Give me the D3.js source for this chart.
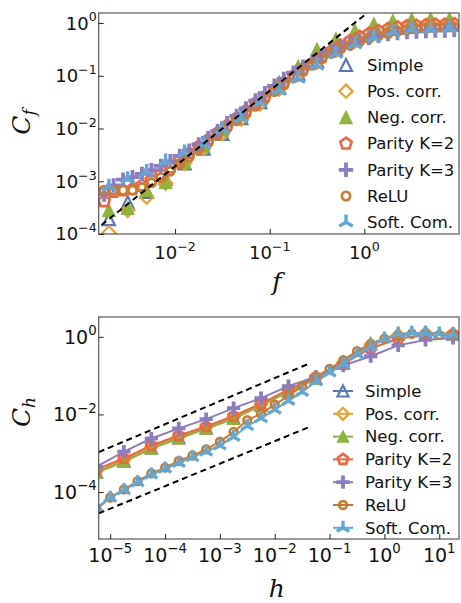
<!DOCTYPE html>
<html>
<head>
<meta charset="utf-8">
<script src="https://cdn.jsdelivr.net/npm/d3@7"></script>
<style>
  body { margin: 0; background: #fff; }
  svg { display: block; }
</style>
</head>
<body>
<svg id="chart" width="461" height="603"></svg>
<script>
// ---------- data, upper panel (C_f vs f) ----------
const fFine = [1.78e-3, 2.24e-3, 2.82e-3, 3.55e-3, 4.47e-3, 5.62e-3, 7.08e-3, 8.91e-3, 0.0112, 0.0141,
  0.0178, 0.0224, 0.0282, 0.0355, 0.0447, 0.0562, 0.0708, 0.0891, 0.112, 0.141,
  0.178, 0.224, 0.282, 0.355, 0.447, 0.562, 0.708, 0.891, 1.12, 1.41,
  1.78, 2.24, 2.82, 3.55, 4.47, 5.62, 7.08, 8.91];
const fCoarse = [2.0e-3, 3.16e-3, 5.01e-3, 7.94e-3, 0.0126, 0.02, 0.0316, 0.0501, 0.0794, 0.126,
  0.2, 0.316, 0.501, 0.794, 1.26, 2.0, 3.16, 5.01, 7.94];

const cfSimple = [1.91e-4, 3.98e-4, 6.31e-4, 1.12e-3, 2.19e-3, 4.17e-3, 7.94e-3, 0.0158, 0.0316, 0.0603,
  0.110, 0.191, 0.316, 0.479, 0.661, 0.832, 0.933, 1.00, 1.05];
const cfPosCorr = [1.05e-4, 2.82e-4, 5.01e-4, 9.12e-4, 2.19e-3, 4.17e-3, 7.94e-3, 0.0151, 0.0295, 0.0562,
  0.105, 0.182, 0.302, 0.457, 0.631, 0.794, 0.891, 0.955, 0.977];
const cfNegCorr = [2.82e-4, 3.09e-4, 6.76e-4, 9.55e-4, 2.29e-3, 4.68e-3, 9.33e-3, 0.0182, 0.0355, 0.0759,
  0.151, 0.316, 0.501, 0.708, 0.955, 1.10, 1.17, 1.20, 1.20];
const cfParity2 = [4.17e-4, 6.31e-4, 6.76e-4, 7.08e-4, 8.32e-4, 1.05e-3, 1.35e-3, 1.82e-3, 2.51e-3, 3.39e-3,
  4.57e-3, 6.17e-3, 8.32e-3, 0.0115, 0.0158, 0.0219, 0.0302, 0.0407, 0.0550, 0.0741,
  0.100, 0.132, 0.174, 0.229, 0.295, 0.372, 0.457, 0.550, 0.631, 0.708,
  0.776, 0.832, 0.871, 0.891, 0.912, 0.933, 0.933, 0.955];
const cfParity3 = [5.62e-4, 8.32e-4, 1.07e-3, 1.20e-3, 1.38e-3, 1.62e-3, 1.95e-3, 2.40e-3, 3.02e-3, 3.80e-3,
  5.01e-3, 6.61e-3, 8.91e-3, 0.0126, 0.0174, 0.0240, 0.0339, 0.0468, 0.0646, 0.0871,
  0.115, 0.148, 0.186, 0.234, 0.288, 0.347, 0.407, 0.468, 0.525, 0.575,
  0.617, 0.646, 0.676, 0.692, 0.708, 0.724, 0.724, 0.741];
const cfRelu = [6.76e-4, 6.76e-4, 6.76e-4, 6.76e-4, 7.59e-4, 9.33e-4, 1.17e-3, 1.55e-3, 2.14e-3, 2.88e-3,
  3.98e-3, 5.37e-3, 7.41e-3, 0.0102, 0.0141, 0.0191, 0.0263, 0.0363, 0.0501, 0.0676,
  0.0912, 0.120, 0.158, 0.209, 0.269, 0.324, 0.380, 0.447, 0.513, 0.575,
  0.631, 0.692, 0.741, 0.776, 0.794, 0.813, 0.832, 0.832];
const cfSoftCom = [7.94e-4, 1.10e-3, 1.51e-3, 2.40e-3, 3.55e-3, 5.01e-3, 9.55e-3, 0.0158, 0.0316, 0.0525,
  0.0891, 0.158, 0.263, 0.398, 0.525, 0.676, 0.759, 0.776, 0.794];

// dashed guide, upper panel
const fGuide = [1.67e-3, 1.07];
const cfGuide = [1.48e-4, 1.55];

// ---------- data, lower panel (C_h vs h) ----------
const hCoarse = [5.62e-6, 1.78e-5, 5.62e-5, 1.78e-4, 5.62e-4, 1.78e-3, 5.62e-3, 0.0178, 0.0562, 0.178,
  0.562, 1.78, 5.62, 17.8];
const hFine = [5.62e-6, 1e-5, 1.78e-5, 3.16e-5, 5.62e-5, 1e-4, 1.78e-4, 3.16e-4, 5.62e-4, 1e-3,
  1.78e-3, 3.16e-3, 5.62e-3, 0.01, 0.0178, 0.0316, 0.0562, 0.1, 0.178, 0.316,
  0.562, 1, 1.78, 3.16, 5.62, 10, 17.8];

const chSimple = [3.31e-4, 6.31e-4, 1.38e-3, 2.51e-3, 4.47e-3, 8.13e-3, 0.0174, 0.0398, 0.0851, 0.209,
  0.661, 1.15, 1.26, 1.17];
const chPosCorr = [3.55e-4, 6.76e-4, 1.48e-3, 2.69e-3, 4.79e-3, 8.51e-3, 0.0182, 0.0417, 0.0891, 0.214,
  0.631, 1.12, 1.26, 1.20];
const chNegCorr = [3.16e-4, 6.03e-4, 1.32e-3, 2.40e-3, 4.27e-3, 7.76e-3, 0.0166, 0.0389, 0.0832, 0.204,
  0.676, 1.17, 1.26, 1.20];
const chParity2 = [3.80e-4, 7.41e-4, 1.58e-3, 2.88e-3, 4.90e-3, 9.12e-3, 0.0191, 0.0437, 0.0912, 0.200,
  0.501, 0.891, 1.12, 1.17];
const chParity3 = [4.47e-4, 1.10e-3, 2.40e-3, 4.37e-3, 7.59e-3, 0.0145, 0.0263, 0.0537, 0.0933, 0.182,
  0.316, 0.603, 0.832, 0.933];
const chRelu = [3.55e-5, 7.24e-5, 1.17e-4, 1.91e-4, 3.02e-4, 4.27e-4, 6.31e-4, 8.71e-4, 1.26e-3, 2.0e-3,
  3.55e-3, 7.08e-3, 0.0105, 0.0178, 0.0302, 0.0537, 0.0955, 0.148, 0.251, 0.427,
  0.661, 0.891, 1.07, 1.20, 1.17, 1.12, 1.12];
const chSoftCom = [3.98e-5, 7.08e-5, 1.12e-4, 1.78e-4, 2.82e-4, 3.98e-4, 5.62e-4, 7.94e-4, 1.10e-3, 1.58e-3,
  2.63e-3, 5.01e-3, 7.94e-3, 0.0132, 0.0224, 0.0380, 0.0708, 0.120, 0.200, 0.355,
  0.562, 0.891, 1.20, 1.26, 1.26, 1.20, 1.17];

// dashed guides, lower panel
const hGuideHi = [6.17e-6, 0.0447];
const chGuideHi = [1.07e-3, 0.211];
const hGuideLo = [6.17e-6, 0.0468];
const chGuideLo = [2.82e-5, 5.01e-3];

const seriesNames = ["Simple", "Pos. corr.", "Neg. corr.", "Parity K=2", "Parity K=3", "ReLU", "Soft. Com."];
const fTicks = [0.01, 0.1, 1];
const cfTicks = [1e-4, 1e-3, 1e-2, 1e-1, 1];
const hTicks = [1e-5, 1e-4, 1e-3, 1e-2, 1e-1, 1, 10];
const chTicks = [1e-4, 1e-2, 1];

// ---------- styles ----------
const colors = ["#5a78b8", "#e8a230", "#8fb43e", "#f0653e", "#8b7dc2", "#cd7a2d", "#5ea9da"];
const kinds = ["triangle", "diamond", "triangle", "pentagon", "plus", "circle", "tri"];
const filled = [false, false, true, false, false, false, false];
const radius = [5, 5.5, 5, 5, 6, 3.5, 6.5];
const strokeW = [2.2, 2.2, 1.5, 2.6, 3.8, 2.6, 3.4];

const s3 = Math.sqrt(3) / 2;
const symbolTypes = {
  triangle: { draw(ctx, size) { const r = Math.sqrt(size);
    ctx.moveTo(0, -r); ctx.lineTo(r, r); ctx.lineTo(-r, r); ctx.closePath(); } },
  diamond: { draw(ctx, size) { const r = Math.sqrt(size);
    ctx.moveTo(0, -r); ctx.lineTo(r, 0); ctx.lineTo(0, r); ctx.lineTo(-r, 0); ctx.closePath(); } },
  pentagon: { draw(ctx, size) { const r = Math.sqrt(size);
    for (let k = 0; k < 5; k++) {
      const a = -Math.PI / 2 + k * 2 * Math.PI / 5;
      if (k === 0) ctx.moveTo(r * Math.cos(a), r * Math.sin(a)); else ctx.lineTo(r * Math.cos(a), r * Math.sin(a));
    }
    ctx.closePath(); } },
  plus: { draw(ctx, size) { const r = Math.sqrt(size);
    ctx.moveTo(-r, 0); ctx.lineTo(r, 0); ctx.moveTo(0, -r); ctx.lineTo(0, r); } },
  circle: { draw(ctx, size) { const r = Math.sqrt(size);
    ctx.moveTo(r, 0); ctx.arc(0, 0, r, 0, 2 * Math.PI); } },
  tri: { draw(ctx, size) { const r = Math.sqrt(size);
    ctx.moveTo(0, 0); ctx.lineTo(0, -r); ctx.moveTo(0, 0); ctx.lineTo(-r * s3, r / 2);
    ctx.moveTo(0, 0); ctx.lineTo(r * s3, r / 2); } }
};
const markerPath = (i, scale) => d3.symbol().type(symbolTypes[kinds[i]]).size(Math.pow(radius[i] * scale, 2))();

const svg = d3.select("#chart");

function panel(cfg) {
  const { id, xDomain, yDomain, left, right, top, bottom, xTicks, yTicks, series, guides, withLines,
    tickFont, xLabelY, legendX, legendTop, legendStep, xTitle, yTitle, yTitleY, xTitleY, mScale } = cfg;
  const x = d3.scaleLog().domain(xDomain).range([left, right]);
  const y = d3.scaleLog().domain(yDomain).range([bottom, top]);
  const g = svg.append("g");

  g.append("clipPath").attr("id", id).append("rect")
    .attr("x", left).attr("y", top).attr("width", right - left).attr("height", bottom - top);
  const plot = g.append("g").attr("clip-path", `url(#${id})`);

  series.forEach((s, i) => {
    const pts = s.x.map((v, k) => [v, s.y[k]]);
    if (withLines) {
      plot.append("path").datum(pts)
        .attr("d", d3.line(d => x(d[0]), d => y(d[1])))
        .attr("fill", "none").attr("stroke", colors[i]).attr("stroke-width", 2);
    }
    plot.selectAll(null).data(pts).enter().append("path")
      .attr("transform", d => `translate(${x(d[0])},${y(d[1])})`)
      .attr("d", markerPath(i, mScale))
      .attr("fill", filled[i] ? colors[i] : "none")
      .attr("stroke", colors[i]).attr("stroke-width", strokeW[i])
      .attr("stroke-linejoin", "miter");
  });

  guides.forEach(gd => {
    plot.append("path").datum(gd.x.map((v, k) => [v, gd.y[k]]))
      .attr("d", d3.line(d => x(d[0]), d => y(d[1])))
      .attr("fill", "none").attr("stroke", "#000").attr("stroke-width", 2)
      .attr("stroke-dasharray", "6,4");
  });

  // frame
  g.append("rect").attr("x", left).attr("y", top).attr("width", right - left).attr("height", bottom - top)
    .attr("fill", "none").attr("stroke", "#555").attr("stroke-width", 1.2);

  // inward ticks
  g.append("g").attr("transform", `translate(0,${bottom})`)
    .call(d3.axisBottom(x).tickValues(xTicks).tickSize(-5).tickFormat(""))
    .call(a => a.select(".domain").remove())
    .selectAll("line").attr("stroke", "#222");
  g.append("g").attr("transform", `translate(${left},0)`)
    .call(d3.axisLeft(y).tickValues(yTicks).tickSize(-5).tickFormat(""))
    .call(a => a.select(".domain").remove())
    .selectAll("line").attr("stroke", "#222");

  const expLabel = (sel) => {
    sel.append("tspan").text("10");
    sel.append("tspan").attr("dy", -tickFont * 0.45).attr("font-size", tickFont * 0.7)
      .text(d => { const e = Math.round(Math.log10(d)); return e < 0 ? "\u2212" + (-e) : String(e); });
  };
  g.selectAll(null).data(xTicks).enter().append("text")
    .attr("x", d => x(d)).attr("y", xLabelY).attr("text-anchor", "middle")
    .attr("font-family", "DejaVu Sans").attr("font-size", tickFont).attr("fill", "#111")
    .call(expLabel);
  g.selectAll(null).data(yTicks).enter().append("text")
    .attr("x", left - 2).attr("y", d => y(d) + tickFont * 0.36).attr("text-anchor", "end")
    .attr("font-family", "DejaVu Sans").attr("font-size", tickFont).attr("fill", "#111")
    .call(expLabel);

  // axis titles
  const yt = g.append("text").attr("transform", `translate(30,${yTitleY}) rotate(-90)`)
    .attr("text-anchor", "middle").attr("font-family", "DejaVu Serif").attr("font-style", "italic")
    .attr("font-size", 25).attr("fill", "#111");
  yt.append("tspan").text(yTitle[0]);
  yt.append("tspan").attr("dy", 5).attr("font-size", 17).text(yTitle[1]);
  g.append("text").attr("x", (left + right) / 2 - 2).attr("y", xTitleY).attr("text-anchor", "middle")
    .attr("font-family", "DejaVu Serif").attr("font-style", "italic").attr("font-size", 25)
    .attr("fill", "#111").text(xTitle);

  // legend
  const lg = g.selectAll(null).data(seriesNames).enter().append("g")
    .attr("transform", (d, i) => `translate(${legendX},${legendTop + i * legendStep})`);
  if (withLines) {
    lg.append("line").attr("x1", -10).attr("x2", 10).attr("y1", 0).attr("y2", 0)
      .attr("stroke", (d, i) => colors[i]).attr("stroke-width", 2);
  }
  lg.append("path").attr("d", (d, i) => markerPath(i, mScale))
    .attr("fill", (d, i) => filled[i] ? colors[i] : "none")
    .attr("stroke", (d, i) => colors[i]).attr("stroke-width", (d, i) => strokeW[i]);
  lg.append("text").attr("x", withLines ? 22 : 21).attr("y", 5.8)
    .attr("font-family", "DejaVu Sans").attr("font-size", 16.5).attr("fill", "#111").text(d => d);
}

panel({
  id: "clipTop", xDomain: [1.56e-3, 10], yDomain: [1e-4, 1.55],
  left: 98.7, right: 459, top: 13, bottom: 234,
  xTicks: fTicks, yTicks: cfTicks, withLines: false, tickFont: 18, xLabelY: 259,
  series: [
    { x: fCoarse, y: cfSimple }, { x: fCoarse, y: cfPosCorr }, { x: fCoarse, y: cfNegCorr },
    { x: fFine, y: cfParity2 }, { x: fFine, y: cfParity3 }, { x: fFine, y: cfRelu },
    { x: fCoarse, y: cfSoftCom }
  ],
  guides: [{ x: fGuide, y: cfGuide }],
  legendX: 346, legendTop: 65, legendStep: 26.2,
  xTitle: "f", yTitle: ["C", "f"], yTitleY: 122, xTitleY: 290, mScale: 1.2
});

panel({
  id: "clipBottom", xDomain: [6.17e-6, 22.9], yDomain: [6.17e-6, 3.24],
  left: 98.7, right: 459, top: 317, bottom: 539,
  xTicks: hTicks, yTicks: chTicks, withLines: true, tickFont: 19, xLabelY: 562,
  series: [
    { x: hCoarse, y: chSimple }, { x: hCoarse, y: chPosCorr }, { x: hCoarse, y: chNegCorr },
    { x: hCoarse, y: chParity2 }, { x: hCoarse, y: chParity3 }, { x: hFine, y: chRelu },
    { x: hFine, y: chSoftCom }
  ],
  guides: [{ x: hGuideHi, y: chGuideHi }, { x: hGuideLo, y: chGuideLo }],
  legendX: 343, legendTop: 391, legendStep: 22.8,
  xTitle: "h", yTitle: ["C", "h"], yTitleY: 412, xTitleY: 597, mScale: 1.1
});
</script>
</body>
</html>
